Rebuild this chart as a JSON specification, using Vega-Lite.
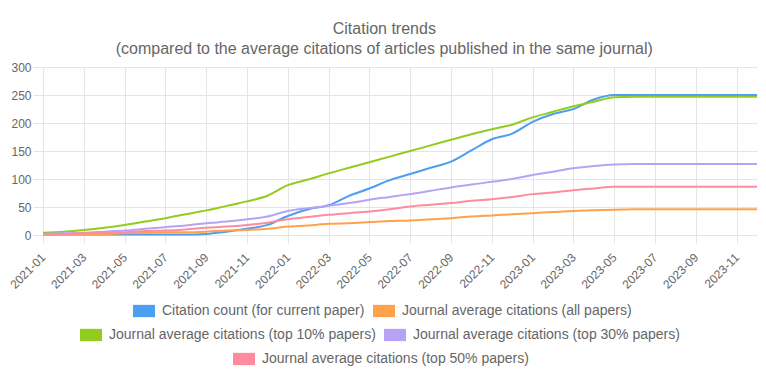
{
  "$schema": "https://vega.github.io/schema/vega-lite/v6.json",
  "autosize": {"type": "none"},
  "width": 714,
  "height": 168,
  "padding": {"left": 43, "top": 67, "right": 9, "bottom": 149},
  "background": "white",
  "title": {
    "text": ["Citation trends", "(compared to the average citations of articles published in the same journal)"],
    "anchor": "middle",
    "frame": "bounds",
    "font": "Liberation Sans",
    "fontSize": 16,
    "fontWeight": "normal",
    "color": "#666666",
    "lineHeight": 20.5,
    "offset": 4
  },
  "data": {
    "values": [
      {"month": "2021-01", "current": 1, "all": 1, "top10": 4, "top30": 2, "top50": 1},
      {"month": "2021-02", "current": 1, "all": 1, "top10": 6, "top30": 3, "top50": 2},
      {"month": "2021-03", "current": 1, "all": 2, "top10": 9, "top30": 4, "top50": 3},
      {"month": "2021-04", "current": 1, "all": 2, "top10": 13, "top30": 6, "top50": 4},
      {"month": "2021-05", "current": 1, "all": 3, "top10": 18, "top30": 8, "top50": 5},
      {"month": "2021-06", "current": 1, "all": 4, "top10": 24, "top30": 11, "top50": 7},
      {"month": "2021-07", "current": 1, "all": 5, "top10": 30, "top30": 14, "top50": 8},
      {"month": "2021-08", "current": 1, "all": 5, "top10": 37, "top30": 17, "top50": 10},
      {"month": "2021-09", "current": 2, "all": 6, "top10": 44, "top30": 21, "top50": 13},
      {"month": "2021-10", "current": 6, "all": 8, "top10": 52, "top30": 24, "top50": 15},
      {"month": "2021-11", "current": 11, "all": 9, "top10": 60, "top30": 28, "top50": 18},
      {"month": "2021-12", "current": 18, "all": 11, "top10": 70, "top30": 33, "top50": 22},
      {"month": "2022-01", "current": 34, "all": 15, "top10": 89, "top30": 43, "top50": 28},
      {"month": "2022-02", "current": 46, "all": 17, "top10": 99, "top30": 48, "top50": 32},
      {"month": "2022-03", "current": 53, "all": 20, "top10": 110, "top30": 52, "top50": 36},
      {"month": "2022-04", "current": 70, "all": 21, "top10": 120, "top30": 57, "top50": 39},
      {"month": "2022-05", "current": 83, "all": 23, "top10": 130, "top30": 63, "top50": 42},
      {"month": "2022-06", "current": 98, "all": 25, "top10": 140, "top30": 68, "top50": 46},
      {"month": "2022-07", "current": 109, "all": 26, "top10": 150, "top30": 73, "top50": 51},
      {"month": "2022-08", "current": 120, "all": 28, "top10": 160, "top30": 79, "top50": 54},
      {"month": "2022-09", "current": 131, "all": 30, "top10": 170, "top30": 85, "top50": 57},
      {"month": "2022-10", "current": 151, "all": 33, "top10": 180, "top30": 90, "top50": 61},
      {"month": "2022-11", "current": 171, "all": 35, "top10": 189, "top30": 95, "top50": 64},
      {"month": "2022-12", "current": 181, "all": 37, "top10": 197, "top30": 100, "top50": 68},
      {"month": "2023-01", "current": 202, "all": 39, "top10": 210, "top30": 107, "top50": 73},
      {"month": "2023-02", "current": 216, "all": 41, "top10": 220, "top30": 113, "top50": 76},
      {"month": "2023-03", "current": 225, "all": 43, "top10": 230, "top30": 119, "top50": 80},
      {"month": "2023-04", "current": 242, "all": 44, "top10": 238, "top30": 123, "top50": 83},
      {"month": "2023-05", "current": 250, "all": 45, "top10": 246, "top30": 126, "top50": 86},
      {"month": "2023-06", "current": 250, "all": 46, "top10": 247, "top30": 127, "top50": 86},
      {"month": "2023-07", "current": 250, "all": 46, "top10": 247, "top30": 127, "top50": 86},
      {"month": "2023-08", "current": 250, "all": 46, "top10": 247, "top30": 127, "top50": 86},
      {"month": "2023-09", "current": 250, "all": 46, "top10": 247, "top30": 127, "top50": 86},
      {"month": "2023-10", "current": 250, "all": 46, "top10": 247, "top30": 127, "top50": 86},
      {"month": "2023-11", "current": 250, "all": 46, "top10": 247, "top30": 127, "top50": 86},
      {"month": "2023-12", "current": 250, "all": 46, "top10": 247, "top30": 127, "top50": 86}
    ]
  },
  "transform": [
    {"fold": ["current", "all", "top10", "top30", "top50"], "as": ["series", "value"]}
  ],
  "encoding": {
    "x": {
      "field": "month",
      "type": "ordinal",
      "sort": null,
      "scale": {"type": "point", "padding": 0},
      "axis": {
        "title": null,
        "values": ["2021-01", "2021-03", "2021-05", "2021-07", "2021-09", "2021-11", "2022-01", "2022-03", "2022-05", "2022-07", "2022-09", "2022-11", "2023-01", "2023-03", "2023-05", "2023-07", "2023-09", "2023-11"],
        "labelAngle": -45,
        "labelAlign": "right",
        "labelBaseline": "middle",
        "labelPadding": 12,
        "labelDx": 7,
        "tickSize": 8,
        "grid": true
      }
    },
    "y": {
      "field": "value",
      "type": "quantitative",
      "scale": {"domain": [0, 300], "nice": false},
      "axis": {
        "title": null,
        "values": [0, 50, 100, 150, 200, 250, 300],
        "tickSize": 10,
        "labelPadding": 2,
        "grid": true
      }
    }
  },
  "layer": [
    {
      "transform": [{"filter": "datum.series == 'current' || datum.series == 'all'"}],
      "mark": {"type": "line", "strokeWidth": 2, "interpolate": "monotone"},
      "encoding": {
        "color": {
          "field": "series",
          "type": "nominal",
          "scale": {"domain": ["current", "all"], "range": ["#4B9EF0", "#FFA24C"]},
          "legend": {
            "orient": "none",
            "legendX": 90,
            "legendY": 233,
            "labelExpr": "datum.value == 'current' ? 'Citation count (for current paper)' : 'Journal average citations (all papers)'",
            "encode": {"symbols": {"update": {"fill": {"signal": "datum.value == 'current' ? '#4B9EF0' : '#FFA24C'"}, "fillOpacity": {"value": 1}, "strokeWidth": {"value": 0}}}}
          }
        }
      }
    },
    {
      "transform": [{"filter": "datum.series == 'top10' || datum.series == 'top30'"}],
      "mark": {"type": "line", "strokeWidth": 2, "interpolate": "monotone"},
      "encoding": {
        "color": {
          "field": "series",
          "type": "nominal",
          "scale": {"domain": ["top10", "top30"], "range": ["#91CC1F", "#B6A3F7"]},
          "legend": {
            "orient": "none",
            "legendX": 37,
            "legendY": 257,
            "labelExpr": "datum.value == 'top10' ? 'Journal average citations (top 10% papers)' : 'Journal average citations (top 30% papers)'",
            "encode": {"symbols": {"update": {"fill": {"signal": "datum.value == 'top10' ? '#91CC1F' : '#B6A3F7'"}, "fillOpacity": {"value": 1}, "strokeWidth": {"value": 0}}}}
          }
        }
      }
    },
    {
      "transform": [{"filter": "datum.series == 'top50'"}],
      "mark": {"type": "line", "strokeWidth": 2, "interpolate": "monotone"},
      "encoding": {
        "color": {
          "field": "series",
          "type": "nominal",
          "scale": {"domain": ["top50"], "range": ["#FF8C9E"]},
          "legend": {
            "orient": "none",
            "legendX": 190,
            "legendY": 281,
            "labelExpr": "'Journal average citations (top 50% papers)'",
            "encode": {"symbols": {"update": {"fill": {"value": "#FF8C9E"}, "fillOpacity": {"value": 1}, "strokeWidth": {"value": 0}}}}
          }
        }
      }
    }
  ],
  "resolve": {"scale": {"color": "independent"}, "legend": {"color": "independent"}},
  "config": {
    "view": {"stroke": null},
    "axis": {
      "labelFont": "Liberation Sans",
      "labelFontSize": 12,
      "labelColor": "#666666",
      "gridColor": "#e5e5e5",
      "tickColor": "#e5e5e5",
      "domainColor": "#e5e5e5"
    },
    "legend": {
      "direction": "horizontal",
      "title": null,
      "symbolType": "M-1,-0.56H1V0.56H-1Z",
      "symbolSize": 484,
      "symbolStrokeWidth": 0,
      "symbolOpacity": 1,
      "labelFont": "Liberation Sans",
      "labelFontSize": 14,
      "labelColor": "#666666",
      "labelOffset": 7,
      "columnPadding": 8,
      "labelLimit": 400
    }
  }
}
